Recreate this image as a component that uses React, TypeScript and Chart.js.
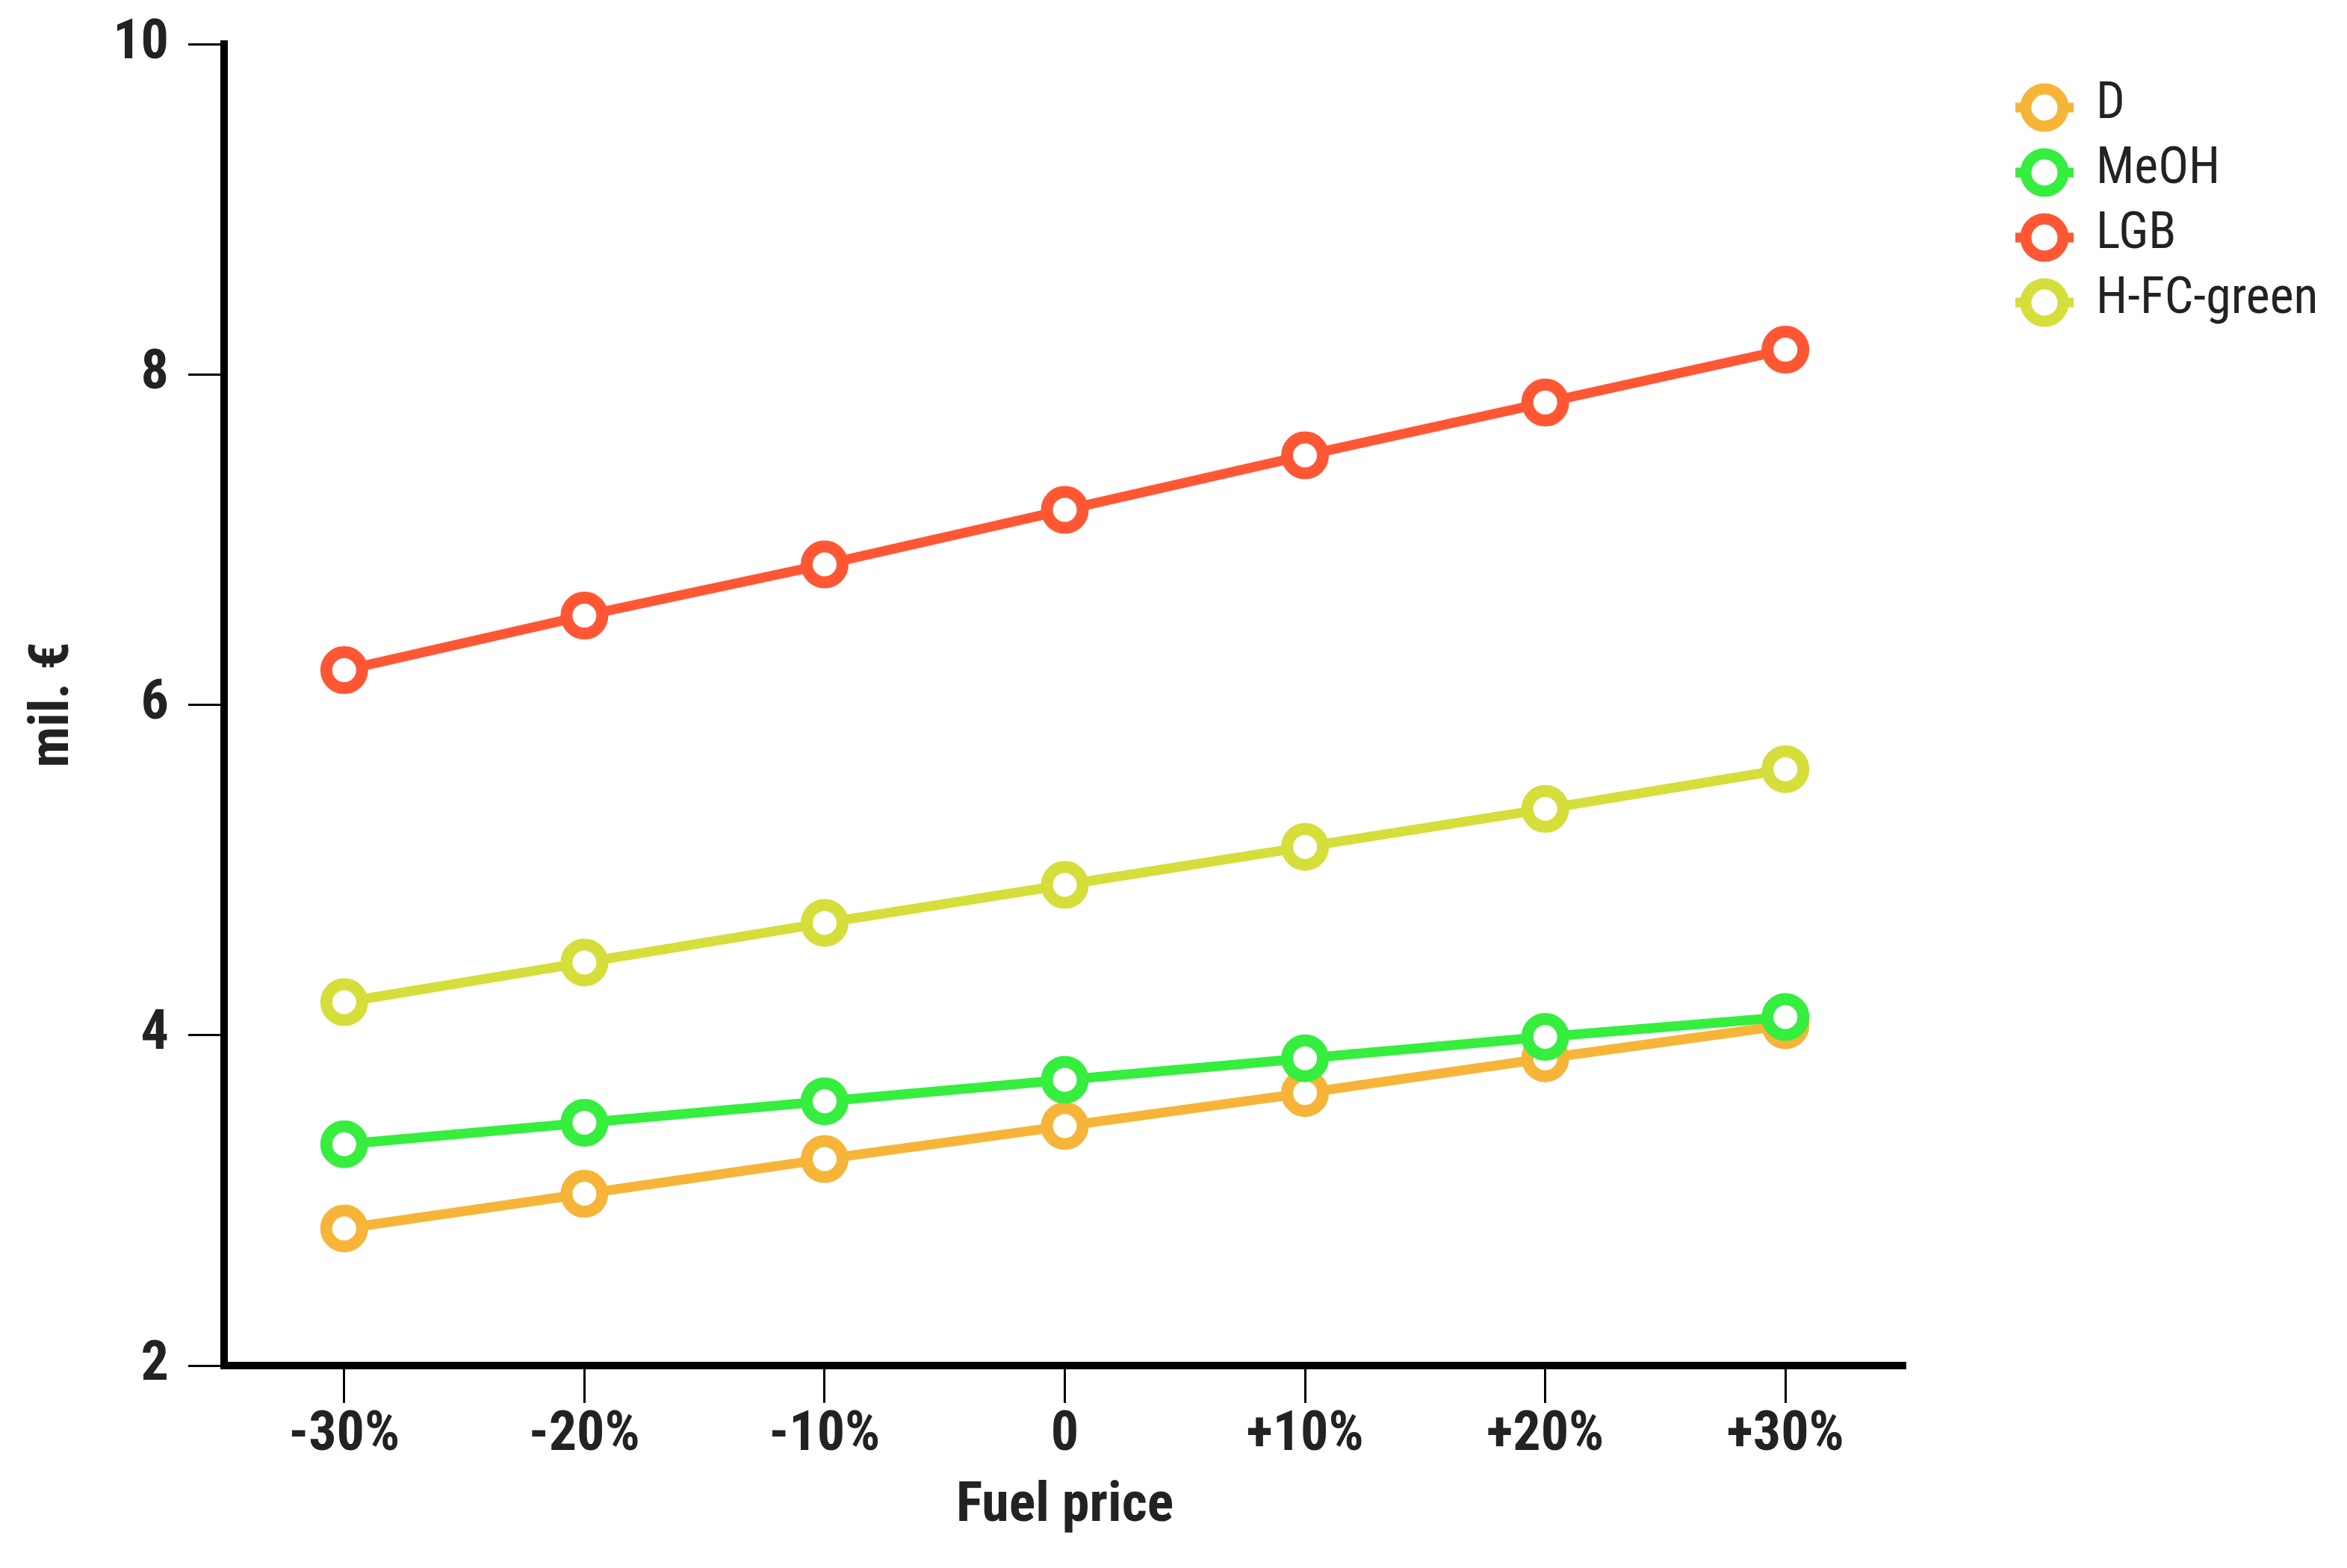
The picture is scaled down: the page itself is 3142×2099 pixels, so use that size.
import React, { useEffect, useRef } from 'react';
import { Chart, registerables } from 'chart.js';

Chart.register(...registerables);

const categories = ['-30%', '-20%', '-10%', '0', '+10%', '+20%', '+30%'];
const seriesLabels = ['D', 'MeOH', 'LGB', 'H-FC-green'];
const valuesD = [2.83, 3.04, 3.25, 3.45, 3.65, 3.86, 4.06];
const valuesMeOH = [3.34, 3.47, 3.60, 3.73, 3.86, 3.99, 4.11];
const valuesLGB = [6.21, 6.54, 6.85, 7.18, 7.51, 7.83, 8.15];
const valuesHFC = [4.20, 4.44, 4.68, 4.91, 5.14, 5.37, 5.61];
const seriesColors = ['#F6B539', '#35EE3E', '#FF5733', '#D5DE3A'];
const yMin = 2;
const yMax = 10;
const yStep = 2;
const xTitle = 'Fuel price';
const yTitle = 'mil. €';

const W = 3142;
const H = 2099;
const FAMILY = "'Roboto Condensed', 'Liberation Sans Narrow', 'DejaVu Sans Condensed', 'Arial Narrow', Roboto, sans-serif";
const TEXT = '#222222';

const legendPlugin = {
  id: 'sideLegend',
  afterDraw(chart: any) {
    const ctx = chart.ctx;
    const startY = 144;
    const rowH = 87;
    const cx = 2737;
    chart.data.datasets.forEach((ds: any, i: number) => {
      const y = startY + i * rowH;
      ctx.save();
      ctx.strokeStyle = ds.borderColor;
      ctx.lineWidth = 13;
      ctx.beginPath();
      ctx.moveTo(cx - 39, y);
      ctx.lineTo(cx + 39, y);
      ctx.stroke();
      ctx.beginPath();
      ctx.arc(cx, y, 25, 0, Math.PI * 2);
      ctx.fillStyle = '#ffffff';
      ctx.fill();
      ctx.lineWidth = 15;
      ctx.stroke();
      ctx.fillStyle = TEXT;
      ctx.font = `normal 68px ${FAMILY}`;
      ctx.textBaseline = 'middle';
      ctx.textAlign = 'left';
      ctx.fillText(ds.label, 2806, y - 3);
      ctx.restore();
    });
  },
};

export default function App() {
  const ref = useRef<HTMLCanvasElement>(null);

  useEffect(() => {
    document.body.style.margin = '0';
    const canvas = ref.current;
    if (!canvas) return;
    const valueSets = [valuesD, valuesMeOH, valuesLGB, valuesHFC];
    const tickFont = { family: FAMILY, size: 74, weight: 'bold' as const };
    const chart = new Chart(canvas, {
      type: 'line',
      data: {
        labels: categories,
        datasets: seriesLabels.map((label, i) => ({
          label,
          data: valueSets[i],
          borderColor: seriesColors[i],
          backgroundColor: '#ffffff',
          pointBackgroundColor: '#ffffff',
          pointBorderColor: seriesColors[i],
          borderWidth: 13,
          pointRadius: 24,
          pointBorderWidth: 16,
          pointHoverRadius: 24,
          tension: 0,
          fill: false,
          order: seriesLabels.length - i,
        })),
      },
      options: {
        responsive: false,
        animation: false,
        devicePixelRatio: 1,
        layout: { padding: { top: 59, right: 591, bottom: 0, left: 0 } },
        plugins: {
          legend: { display: false },
          tooltip: { enabled: false },
        },
        scales: {
          x: {
            type: 'category',
            offset: true,
            border: { display: true, color: '#000000', width: 10 },
            grid: {
              drawOnChartArea: false,
              drawTicks: true,
              tickLength: 50,
              tickWidth: 3,
              tickColor: '#000000',
            },
            ticks: {
              color: TEXT,
              font: tickFont,
              padding: 0,
              maxRotation: 0,
              autoSkip: false,
            },
            title: {
              display: true,
              text: xTitle,
              color: TEXT,
              font: tickFont,
              padding: { top: 0, bottom: 37 },
            },
            afterFit: (s: any) => {
              s.height = 271;
              s.paddingLeft = 0;
              s.paddingRight = 0;
            },
          },
          y: {
            min: yMin,
            max: yMax,
            border: { display: true, color: '#000000', width: 10 },
            grid: {
              drawOnChartArea: false,
              drawTicks: true,
              tickLength: 48,
              tickWidth: 3,
              tickColor: '#000000',
            },
            ticks: {
              stepSize: yStep,
              color: TEXT,
              font: tickFont,
              padding: 26,
            },
            title: {
              display: true,
              text: yTitle,
              color: TEXT,
              font: tickFont,
              padding: { top: 28, bottom: 0 },
            },
            afterFit: (s: any) => {
              s.width = 300;
              s.paddingTop = 0;
              s.paddingBottom = 0;
            },
          },
        },
      },
      plugins: [legendPlugin],
    });
    return () => chart.destroy();
  }, []);

  return (
    <div style={{ position: 'absolute', left: 0, top: 0, width: W, height: H, background: '#fff' }}>
      <canvas ref={ref} width={W} height={H} style={{ width: W, height: H, display: 'block' }} />
    </div>
  );
}
